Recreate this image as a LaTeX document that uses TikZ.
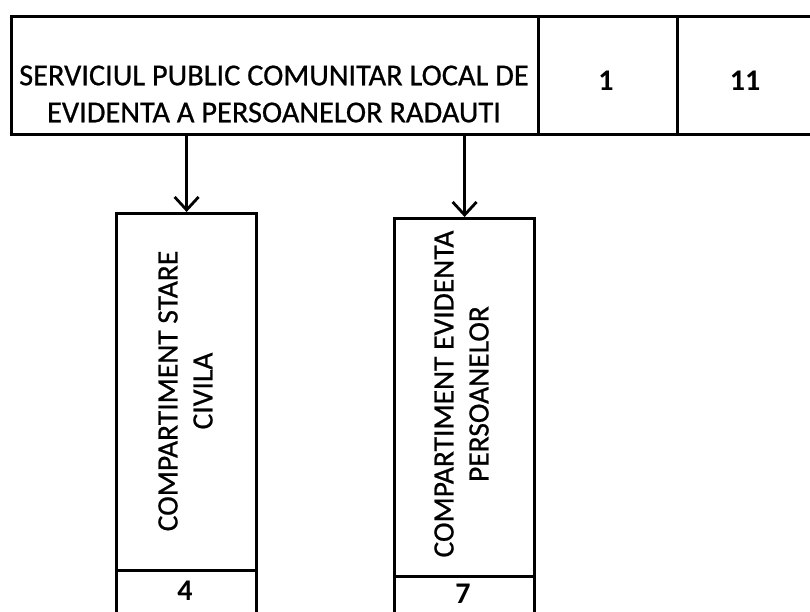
\documentclass[tikz,border=0pt]{standalone}
\usepackage{fontspec}
\setmainfont{Carlito}
\newfontfamily\scanfont[FakeBold=0.7]{Carlito}
\usetikzlibrary{arrows.meta}
\begin{document}
\begin{tikzpicture}[x=1pt,y=-1pt,
  cell/.style={draw, line width=3.2pt, inner sep=0pt, anchor=north west},
  conn/.style={line width=2.8pt, -{Straight Barb[length=13pt,width=24pt,line width=2.8pt]}},
  toptext/.style={font=\scanfont\fontsize{30.4}{37}\selectfont, align=center, inner sep=0pt},
  vtext/.style={font=\scanfont\fontsize{29.5}{35}\selectfont, align=center, rotate=90, inner sep=0pt},
  num/.style={font=\bfseries\fontsize{30}{36}\selectfont, inner sep=0pt}]
\clip (0,0) rectangle (810,611);
\fill[white] (0,0) rectangle (810,611);
% top row
\node[cell, minimum width=527pt, minimum height=118pt] (srv) at (10,15) {};
\node[cell, minimum width=139pt, minimum height=118pt] (c1) at (537,15) {};
\node[cell, minimum width=139pt, minimum height=118pt] (c2) at (676,15) {};
\node[toptext] (srvt) at (274,94) {SERVICIUL PUBLIC COMUNITAR LOCAL DE\\EVIDENTA A PERSOANELOR RADAUTI};
\node[num] (n1) at (606,81) {1};
\node[num] (n11) at (745,81) {11};
% left box
\node[cell, minimum width=140pt, minimum height=357pt] (stare) at (115,212) {};
\node[cell, minimum width=140pt, minimum height=60pt] (stareN) at (115,569) {};
\node[vtext] (staret) at (185.5,391) {COMPARTIMENT STARE\\CIVILA};
\node[num] (n4) at (185,591) {4};
% right box
\node[cell, minimum width=140pt, minimum height=358pt] (evid) at (393,217) {};
\node[cell, minimum width=140pt, minimum height=60pt] (evidN) at (393,575) {};
\node[vtext] (evidt) at (461.5,394) {COMPARTIMENT EVIDENTA\\PERSOANELOR};
\node[num] (n7) at (463,594) {7};
% connectors
\draw[conn] (stare.north |- srv.south) -- (stare.north);
\draw[conn] (evid.north |- srv.south) -- (evid.north);
\end{tikzpicture}
\end{document}
